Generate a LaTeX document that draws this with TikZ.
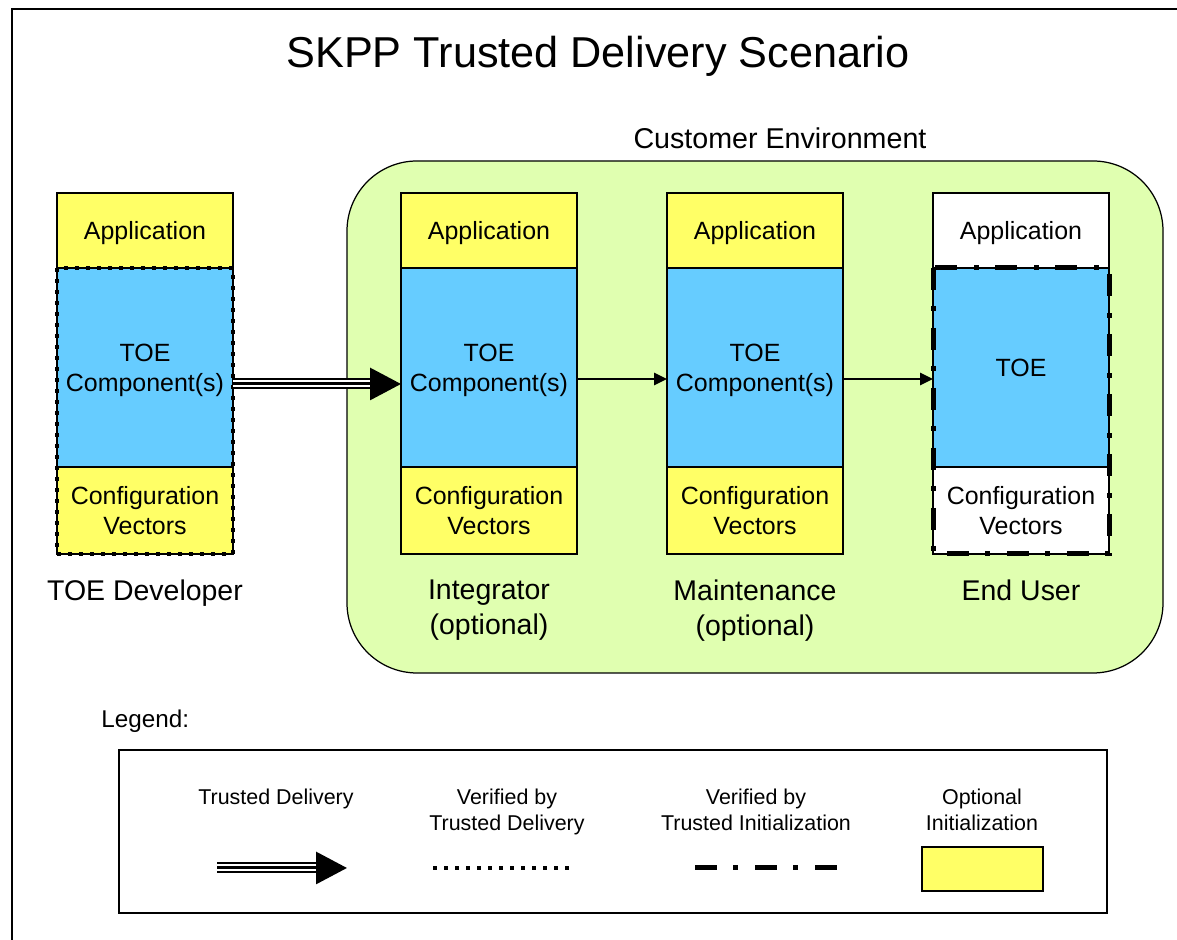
\documentclass[tikz,border=0pt]{standalone}
\usepackage{fontspec}
\setmainfont{Liberation Sans}
\usepackage{xcolor}
\usetikzlibrary{positioning,arrows.meta}

\definecolor{optyellow}{HTML}{FFFF66}
\definecolor{toeblue}{HTML}{66CCFF}
\definecolor{custgreen}{HTML}{E0FFB0}

\tikzset{
	stack/.style={draw, line width=0.6pt, outer sep=0pt, inner sep=0pt, text depth=0pt, minimum width=3.52cm, align=center, font=\fontsize{14.2}{17}\selectfont},
	appbox/.style={stack, minimum height=1.5cm},
	toebox/.style={stack, minimum height=3.98cm, fill=toeblue},
	cfgbox/.style={stack, minimum height=1.74cm},
	rolelabel/.style={inner sep=0pt, anchor=north, align=center, font=\fontsize{16.2}{19.8}\selectfont},
	legtext/.style={inner sep=0pt, anchor=north, align=center, font=\fontsize{12.2}{14.7}\selectfont},
	vdotted/.style={line width=0.08cm, dash pattern=on 0.08cm off 0.14cm},
	vdashdot/.style={line width=0.1cm, dash pattern=on 0.44cm off 0.32cm on 0.1cm off 0.34cm},
	tdouter/.style={line width=0.22cm, shorten >=0.6cm},
	tdwhite/.style={white, line width=0.14cm, shorten >=0.6cm},
	tdinner/.style={line width=0.06cm, -{Triangle[length=0.62cm,width=0.64cm]}},
	handoff/.style={line width=1.5pt, -{Triangle[length=0.26cm,width=0.24cm]}}
}

\begin{document}
\begin{tikzpicture}
	\useasboundingbox (0, 0) rectangle (23.54, 18.8);
	\draw[line width=1.1pt] (23.6, 18.62) -- (0.24, 18.62) -- (0.24, -0.1);

	\node[anchor=base, font=\fontsize{24.6}{29}\selectfont] (title) at (11.96, 17.45) {SKPP Trusted Delivery Scenario};

	% Customer environment
	\draw[fill=custgreen, line width=0.7pt, rounded corners=1.4cm] (6.94, 5.34) rectangle (23.26, 15.58);
	\node[anchor=base, font=\fontsize{16.3}{19.8}\selectfont] (cust) at (15.6, 15.83) {Customer Environment};

	\begin{scope}[xshift=2.9cm, yshift=0cm]
		\node[appbox, fill=optyellow] (dapp) at (0, 14.19) {Application};
		\node[toebox, below=0cm of dapp] (dtoe) {TOE\\Component(s)};
		\node[cfgbox, fill=optyellow, below=0cm of dtoe] (dcfg) {Configuration\\Vectors};
		\draw[vdotted] (dtoe.north west) rectangle (dcfg.south east);
		\node[rolelabel, below=0.52cm of dcfg] (dlab) {TOE Developer};
	\end{scope}

	\begin{scope}[xshift=9.78cm, yshift=0cm]
		\node[appbox, fill=optyellow] (iapp) at (0, 14.19) {Application};
		\node[toebox, below=0cm of iapp] (itoe) {TOE\\Component(s)};
		\node[cfgbox, fill=optyellow, below=0cm of itoe] (icfg) {Configuration\\Vectors};
		\node[rolelabel, below=0.52cm of icfg] (ilab) {Integrator\\(optional)};
	\end{scope}

	\begin{scope}[xshift=15.1cm, yshift=0cm]
		\node[appbox, fill=optyellow] (mapp) at (0, 14.19) {Application};
		\node[toebox, below=0cm of mapp] (mtoe) {TOE\\Component(s)};
		\node[cfgbox, fill=optyellow, below=0cm of mtoe] (mcfg) {Configuration\\Vectors};
		\node[rolelabel, below=0.52cm of mcfg] (mlab) {Maintenance\\(optional)};
	\end{scope}

	\begin{scope}[xshift=20.42cm, yshift=0cm]
		\node[appbox, fill=white] (uapp) at (0, 14.19) {Application};
		\node[toebox, below=0cm of uapp] (utoe) {TOE};
		\node[cfgbox, fill=white, below=0cm of utoe] (ucfg) {Configuration\\Vectors};
		\draw[vdashdot] (utoe.north west) rectangle (ucfg.south east);
		\node[rolelabel, below=0.52cm of ucfg] (ulab) {End User};
	\end{scope}

	% Draw the delivery arrows between the stages
	\draw[tdouter] ([yshift=-0.33cm]dtoe.east) -- ([yshift=-0.33cm]itoe.west);
	\draw[tdwhite] ([yshift=-0.33cm]dtoe.east) -- ([yshift=-0.33cm]itoe.west);
	\draw[tdinner] ([yshift=-0.33cm]dtoe.east) -- ([yshift=-0.33cm]itoe.west);
	\draw[handoff] ([yshift=-0.23cm]itoe.east) -- ([yshift=-0.23cm]mtoe.west);
	\draw[handoff] ([yshift=-0.23cm]mtoe.east) -- ([yshift=-0.23cm]utoe.west);

	% Legend
	\node[anchor=base west, inner sep=0pt, font=\fontsize{13.8}{16}\selectfont] (leg) at (2.02, 4.25) {Legend:};
	\draw[line width=0.9pt] (2.38, 0.54) rectangle (22.14, 3.8);

	\node[legtext] (ltd) at (5.52, 3.03) {Trusted Delivery};
	\node[legtext] (lvd) at (10.14, 3.03) {Verified by\\Trusted Delivery};
	\node[legtext] (lvi) at (15.12, 3.03) {Verified by\\Trusted Initialization};
	\node[legtext] (lopt) at (19.64, 3.03) {Optional\\Initialization};

	\coordinate (ltda) at (4.34, 1.44);
	\coordinate (ltdb) at (6.94, 1.44);
	\coordinate (lvda) at (8.66, 1.44);
	\coordinate (lvdb) at (11.4, 1.44);
	\coordinate (lvia) at (13.9, 1.44);
	\coordinate (lvib) at (16.76, 1.44);

	\draw[tdouter] (ltda) -- (ltdb);
	\draw[tdwhite] (ltda) -- (ltdb);
	\draw[tdinner] (ltda) -- (ltdb);
	\draw[vdotted] (lvda) -- (lvdb);
	\draw[vdashdot] (lvia) -- (lvib);
	\node[draw, fill=optyellow, line width=0.7pt, minimum width=2.42cm, minimum height=0.88cm, inner sep=0pt] (loptbox) at (19.65, 1.42) {};
\end{tikzpicture}
\end{document}
